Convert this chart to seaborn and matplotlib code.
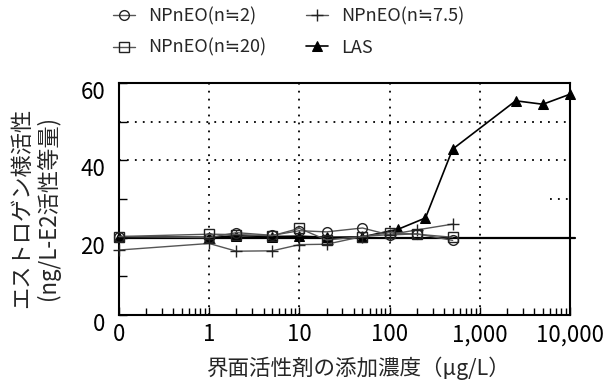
import matplotlib
matplotlib.use("Agg")
import matplotlib.pyplot as plt
import matplotlib.transforms as mtransforms
from matplotlib.ticker import FixedLocator, NullFormatter, LogLocator
import seaborn as sns
import numpy as np

# ---- data ----
# "0" concentration is drawn at 0.1 on the log axis
conc_np = [0.1, 1, 2, 5, 10, 20, 50, 100, 200, 500]
np_n2 = [20.3, 20.0, 21.3, 20.6, 21.8, 21.5, 22.5, 20.7, 21.0, 19.3]
np_n75 = [16.8, 18.5, 16.5, 16.6, 18.2, 18.3, 20.3, 20.8, 22.0, 23.5]
np_n20 = [20.3, 20.9, 20.8, 20.5, 22.4, 19.4, 20.3, 21.3, 20.9, 20.1]
conc_las = [0.1, 1, 2, 5, 10, 20, 50, 125, 250, 500, 2500, 5000, 10000]
las = [20.2, 20.1, 20.5, 20.3, 20.4, 20.1, 20.2, 22.2, 25.1, 42.9, 55.4, 54.5, 57.1]
control_level = 20

x_ticks = [0.1, 1, 10, 100, 1000, 10000]
x_ticklabels = ["0", "1", "10", "100", "1,000", "10,000"]
y_ticks = [0, 20, 40, 60]
y_minor = [10, 30, 50]

sns.set_theme(style="white")
plt.rcParams['font.family'] = ['Noto Sans CJK JP', 'DejaVu Sans']

fig = plt.figure(figsize=(6.09, 3.84), dpi=100)
ax = fig.add_axes([119/609, 1-315/384, (570-119)/609, (315-83)/384])

ax.set_xscale("log")
ax.set_xlim(0.1, 10000)
ax.set_ylim(0, 60)

# grid lines
dot = (0, (1, 3.4))
for xv in x_ticks[1:-1]:
    ax.axvline(xv, color="black", lw=1.3, ls=dot, zorder=1)
for yv in [40, 50]:
    ax.axhline(yv, color="black", lw=1.3, ls=dot, zorder=1)
ax.axhline(30, xmin=0.955, xmax=1.0, color="black", lw=1.3, ls=dot, zorder=1)

# control line
ax.axhline(control_level, xmin=0, xmax=1.012, color="black", lw=1.6, zorder=2, clip_on=False)

line_col = "#555555"
edge_col = "#222222"
kw = dict(sort=False, estimator=None, ax=ax, clip_on=False)
sns.lineplot(x=conc_las, y=las, color="black", lw=1.2, marker="^", markersize=7,
             markerfacecolor="black", markeredgecolor="black", zorder=3,
             label="LAS", **kw)
sns.lineplot(x=conc_np, y=np_n2, color=line_col, lw=1.0, marker="o", markersize=7,
             markerfacecolor="none", markeredgecolor=edge_col, markeredgewidth=1.0,
             zorder=4, label="NPnEO(n≒2)", **kw)
sns.lineplot(x=conc_np, y=np_n75, color=line_col, lw=1.0, marker="+", markersize=9,
             markeredgecolor=edge_col, markeredgewidth=1.0, zorder=4,
             label="NPnEO(n≒7.5)", **kw)
sns.lineplot(x=conc_np, y=np_n20, color=line_col, lw=1.0, marker="s", markersize=7,
             markerfacecolor="none", markeredgecolor=edge_col, markeredgewidth=1.0,
             zorder=4, label="NPnEO(n≒20)", **kw)

# legend
handles, labels = ax.get_legend_handles_labels()
order = ["NPnEO(n≒2)", "NPnEO(n≒20)", "NPnEO(n≒7.5)", "LAS"]
hmap = dict(zip(labels, handles))
ax.get_legend().remove()
fig.legend([hmap[o] for o in order], order, ncol=2, loc="center",
           bbox_to_anchor=(0.4745, 0.917), frameon=False, fontsize=13,
           handlelength=1.2, handletextpad=0.75, columnspacing=2.2,
           labelspacing=0.75)

# ticks
ax.xaxis.set_major_locator(FixedLocator(x_ticks))
ax.set_xticklabels(x_ticklabels)
ax.xaxis.set_minor_locator(LogLocator(base=10, subs=np.arange(2, 10)))
ax.xaxis.set_minor_formatter(NullFormatter())
ax.yaxis.set_major_locator(FixedLocator(y_ticks))
ax.yaxis.set_minor_locator(FixedLocator(y_minor))
ax.tick_params(axis="both", which="both", direction="in", colors="black",
               bottom=True, left=True, top=False, right=False)
ax.tick_params(axis="both", which="major", length=6, width=1.0, labelsize=16, pad=6)
ax.tick_params(axis="y", which="minor", length=6, width=1.0)
ax.tick_params(axis="x", which="minor", length=5, width=1.0)
ax.tick_params(axis="y", which="major", pad=10)

offset = mtransforms.ScaledTranslation(0, -0.07, fig.dpi_scale_trans)
for lab in ax.get_yticklabels():
    lab.set_transform(lab.get_transform() + offset)

for sp in ax.spines.values():
    sp.set_visible(True)
    sp.set_color("black")
    sp.set_linewidth(1.5)

ax.set_xlabel("界面活性剤の添加濃度（μg/L）", fontsize=15.5)
ax.set_ylabel("エストロゲン様活性\n(ng/L-E2活性等量)", fontsize=16, linespacing=1.15)
ax.xaxis.label.set_va("center")
ax.xaxis.set_label_coords(0.53, -0.228)
ax.yaxis.label.set_va("center")
ax.yaxis.set_label_coords(-0.187, 0.461)

fig.savefig("out.png", dpi=100)
